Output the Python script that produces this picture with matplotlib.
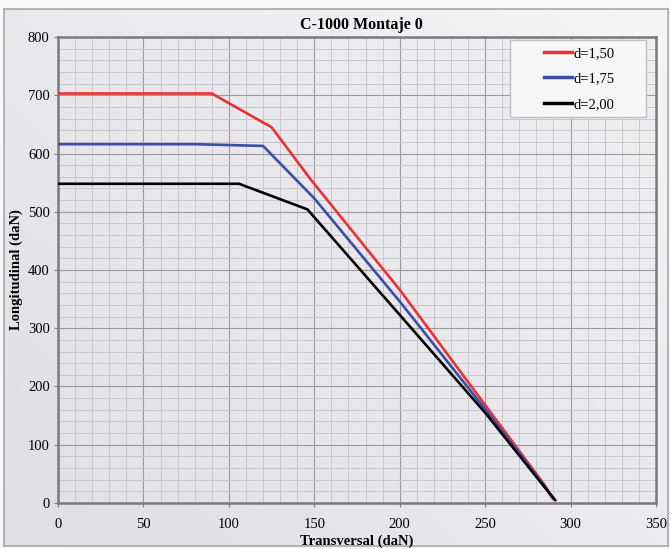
import numpy as np
import matplotlib
matplotlib.use("Agg")
import matplotlib.pyplot as plt
from matplotlib.patches import Rectangle
from matplotlib.ticker import MultipleLocator

# data (Transversal daN, Longitudinal daN)
x_150 = [0, 90, 125, 148, 200, 250, 285, 289]
y_150 = [703, 703, 645, 555, 366, 168, 30, 10]

x_175 = [0, 80, 120, 150, 200, 250, 285, 290]
y_175 = [616, 616, 613, 523, 346, 161, 28, 7]

x_200 = [0, 106, 146, 200, 250, 284, 291]
y_200 = [548, 548, 504, 323, 155, 30, 5]

labels = ["d=1,50", "d=1,75", "d=2,00"]
colors = ["#ee3030", "#3a4da8", "#000000"]

plt.rcParams['font.family'] = ['Liberation Serif', 'DejaVu Serif']

fig = plt.figure(figsize=(6.7, 5.49), dpi=100)
fig.patch.set_facecolor("#f7f7f8")

# soft background gradient inside the chart frame
bg = fig.add_axes([0.006, 0.006, 0.991, 0.978], zorder=-10)
gx = np.linspace(0, 1, 200)
GX, GY = np.meshgrid(gx, gx)
grad = 0.55 * GX + 0.45 * GY
bg.imshow(grad, cmap=matplotlib.colors.LinearSegmentedColormap.from_list(
    "bgc", ["#e0dde5", "#f5f5f7"]), origin="lower", aspect="auto",
    extent=[0, 1, 0, 1])
bg.set_xticks([])
bg.set_yticks([])
for s in bg.spines.values():
    s.set_color("#a8a8a8")
    s.set_linewidth(1.2)

ax = fig.add_axes([0.0866, 0.0838, 0.8925, 0.8488])
ax.set_facecolor((0.9, 0.9, 0.92, 0.35))

ax.plot(x_150, y_150, color=colors[0], lw=1.9, label=labels[0], zorder=3)
ax.plot(x_175, y_175, color=colors[1], lw=1.9, label=labels[1], zorder=3)
ax.plot(x_200, y_200, color=colors[2], lw=1.9, label=labels[2], zorder=3)

ax.set_xlim(0, 350)
ax.set_ylim(0, 800)
ax.xaxis.set_major_locator(MultipleLocator(50))
ax.xaxis.set_minor_locator(MultipleLocator(10))
ax.yaxis.set_major_locator(MultipleLocator(100))
ax.yaxis.set_minor_locator(MultipleLocator(20))
ax.grid(which="major", color="#9a9a9a", lw=0.8)
ax.grid(which="minor", color="#c9c9cc", lw=0.7)
ax.set_axisbelow(True)
ax.tick_params(which="minor", length=0)
ax.tick_params(which="major", length=3, color="#808080", labelsize=10.5)
ax.tick_params(axis="x", pad=8)
ax.tick_params(axis="y", pad=3)
for s in ax.spines.values():
    s.set_color("#7a7a7a")
    s.set_linewidth(1.8)

ax.set_title("C-1000 Montaje 0", fontsize=11.5, fontweight="bold", pad=6, x=0.508)
ax.set_xlabel("Transversal (daN)", fontsize=10.5, fontweight="bold")
ax.set_ylabel("Longitudinal (daN)", fontsize=10.5, fontweight="bold")
ax.xaxis.set_label_coords(0.5, -0.068)
ax.yaxis.set_label_coords(-0.059, 0.5)

# legend box drawn separately so its padding matches the original
ax.add_patch(Rectangle((0.756, 0.828), 0.227, 0.166, transform=ax.transAxes,
                       facecolor="#f6f6f7", edgecolor="#c0c0c0", lw=1.0, zorder=4))
leg = ax.legend(loc="center", bbox_to_anchor=(0.872, 0.91), fontsize=10.5,
                frameon=False, handlelength=1.9, handletextpad=0.1,
                borderpad=0, labelspacing=0.83)
leg.set_zorder(5)
for line in leg.get_lines():
    line.set_linewidth(2.5)

fig.savefig("out.png", dpi=100)
